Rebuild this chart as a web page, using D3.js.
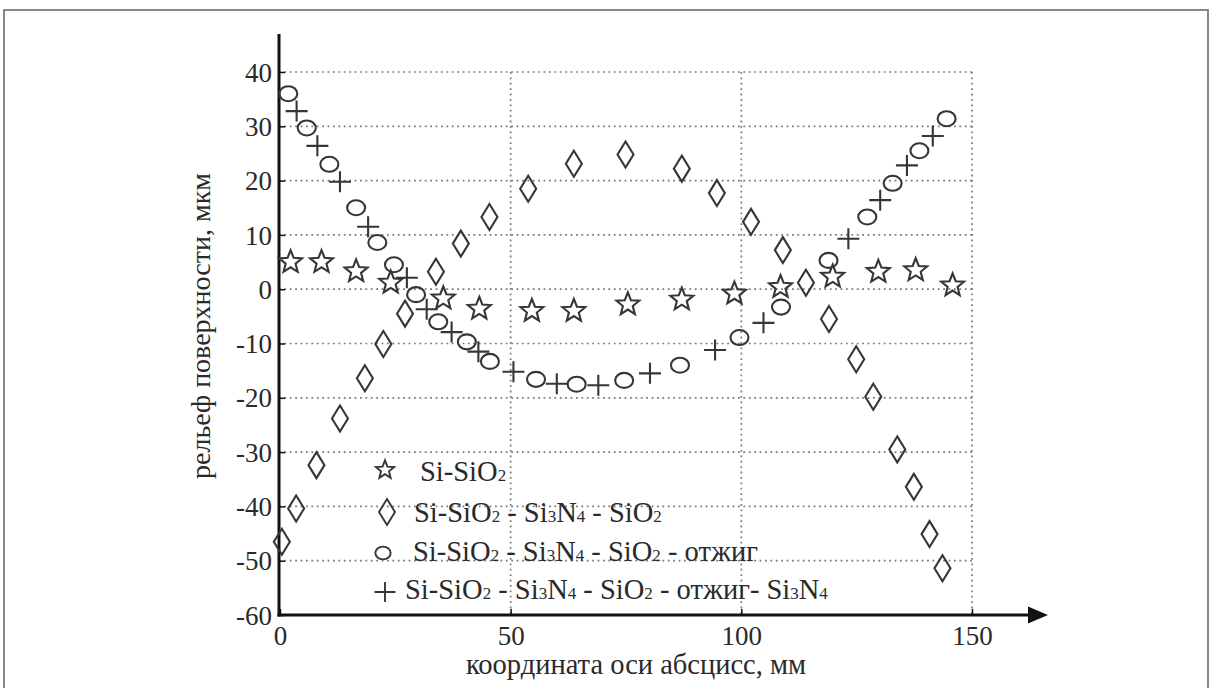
<!DOCTYPE html>
<html>
<head>
<meta charset="utf-8">
<script src="https://cdn.jsdelivr.net/npm/d3@7"></script>
<style>
  html, body { margin: 0; padding: 0; background: #fff; }
  svg { display: block; }
</style>
</head>
<body>
<svg id="chart" width="1214" height="688"></svg>
<script>
// Surface relief profiles, µm, along the abscissa (mm)
const starX = [2.3, 9.0, 16.5, 24.0, 35.4, 43.2, 54.6, 63.7, 75.4, 87.1, 98.5, 108.5, 119.8, 129.7, 137.8, 145.8];
const starY = [5.0, 5.0, 3.3, 1.2, -1.7, -3.6, -4.0, -4.0, -2.8, -1.9, -0.8, 0.4, 2.3, 3.2, 3.5, 0.7];

const diamondX = [0.4, 3.5, 7.9, 13.0, 18.4, 22.4, 27.1, 33.8, 39.2, 45.4, 53.8, 63.7, 74.9, 87.1, 94.7, 102.1, 109.0, 114.0, 119.0, 124.9, 128.6, 133.8, 137.4, 140.8, 143.6];
const diamondY = [-46.5, -40.4, -32.4, -23.8, -16.4, -10.1, -4.5, 3.2, 8.4, 13.3, 18.5, 23.1, 24.8, 22.2, 17.7, 12.4, 7.2, 1.2, -5.5, -12.9, -19.8, -29.5, -36.4, -45.1, -51.4];

const circleX = [1.8, 5.8, 10.7, 16.5, 21.1, 24.7, 29.5, 34.3, 40.5, 45.5, 55.5, 64.3, 74.6, 86.7, 99.6, 108.6, 118.9, 127.3, 132.8, 138.6, 144.5];
const circleY = [36.0, 29.7, 23.0, 15.0, 8.6, 4.5, -1.0, -6.0, -9.7, -13.3, -16.6, -17.5, -16.8, -14.0, -8.9, -3.3, 5.3, 13.3, 19.5, 25.5, 31.4];

const plusX = [3.6, 8.1, 13.0, 19.1, 27.5, 31.8, 37.2, 43.0, 50.6, 60.0, 69.0, 80.2, 94.3, 104.8, 123.2, 130.1, 135.9, 141.5];
const plusY = [32.8, 26.4, 19.8, 11.5, 2.1, -3.7, -7.9, -11.5, -15.2, -17.4, -17.7, -15.5, -11.2, -6.2, 9.3, 16.4, 22.8, 28.2];

const xTicks = [0, 50, 100, 150];
const yTicks = [40, 30, 20, 10, 0, -10, -20, -30, -40, -50, -60];
const xGrid = [50, 100, 150];
const yGrid = [40, 30, 20, 10, 0, -10, -20, -30, -40, -50];

// "_N" marks a subscript digit
const legendLabels = [
  "Si-SiO_2",
  "Si-SiO_2 - Si_3N_4 - SiO_2",
  "Si-SiO_2 - Si_3N_4 - SiO_2 - отжиг",
  "Si-SiO_2 - Si_3N_4 - SiO_2 - отжиг- Si_3N_4"
];
const xTitle = "координата оси абсцисс, мм";
const yTitle = "рельеф поверхности, мкм";

const FONT = "'Liberation Serif', 'Times New Roman', 'DejaVu Serif', serif";
const textInk = "#2a2a2a";
const ink = "#363636";

const svg = d3.select("#chart");

const x = d3.scaleLinear().domain([0, 150]).range([280, 972]);
const y = d3.scaleLinear().domain([-60, 40]).range([615, 72]);
const axisX = 279;

// outer frame
svg.append("rect")
  .attr("x", 4).attr("y", 10).attr("width", 1204).attr("height", 700)
  .attr("fill", "none").attr("stroke", "#6a6a6a").attr("stroke-width", 1.6);

// dotted grid
const grid = svg.append("g")
  .attr("stroke", "#7a7a7a").attr("stroke-width", 1.7)
  .attr("stroke-dasharray", "1.8,3.6").attr("fill", "none");
grid.selectAll("line.h").data(yGrid).join("line").attr("class", "h")
  .attr("x1", axisX).attr("x2", x(150))
  .attr("y1", d => y(d)).attr("y2", d => y(d));
grid.selectAll("line.v").data(xGrid).join("line").attr("class", "v")
  .attr("x1", d => x(d)).attr("x2", d => x(d))
  .attr("y1", y(40)).attr("y2", y(-60));

// y axis with inward ticks
const yAxis = d3.axisRight(y).tickValues(yTicks).tickSize(6).tickFormat("");
const gy = svg.append("g").attr("transform", `translate(${axisX},0)`).call(yAxis);
gy.select(".domain").remove();
gy.selectAll(".tick line").attr("stroke", "#111").attr("stroke-width", 1.5);
gy.selectAll(".tick").append("text")
  .attr("x", -7).attr("dy", "0.34em").attr("text-anchor", "end")
  .style("font-family", FONT).style("font-size", "27px").style("fill", textInk)
  .text(d => d);
svg.append("line")
  .attr("x1", axisX).attr("x2", axisX).attr("y1", 34).attr("y2", y(-60) + 1.5)
  .attr("stroke", "#111").attr("stroke-width", 3);

// x axis with upward ticks and an arrow
const xAxis = d3.axisTop(x).tickValues(xTicks).tickSize(6).tickFormat("");
const gx = svg.append("g").attr("transform", `translate(0,${y(-60)})`).call(xAxis);
gx.select(".domain").remove();
gx.selectAll(".tick line").attr("stroke", "#111").attr("stroke-width", 1.5);
gx.selectAll(".tick").append("text")
  .attr("y", 30).attr("text-anchor", "middle")
  .style("font-family", FONT).style("font-size", "27px").style("fill", textInk)
  .text(d => d);
svg.append("line")
  .attr("x1", axisX - 1.5).attr("x2", 1032).attr("y1", y(-60)).attr("y2", y(-60))
  .attr("stroke", "#111").attr("stroke-width", 3);
svg.append("path")
  .attr("d", `M1028,${y(-60) - 8.5}L1048,${y(-60)}L1028,${y(-60) + 8.5}Z`)
  .attr("fill", "#111");

// axis titles
svg.append("text")
  .attr("x", 636).attr("y", 674).attr("text-anchor", "middle")
  .style("font-family", FONT).style("font-size", "28.5px").style("fill", textInk)
  .text(xTitle);
svg.append("text")
  .attr("transform", "translate(210,326) rotate(-90)")
  .attr("text-anchor", "middle")
  .style("font-family", FONT).style("font-size", "28px").style("fill", textInk)
  .text(yTitle);

// marker shapes
function starPath(R, r) {
  const pts = [];
  for (let i = 0; i < 10; i++) {
    const a = -Math.PI / 2 + i * Math.PI / 5;
    const rad = i % 2 === 0 ? R : r;
    pts.push([rad * Math.cos(a), rad * Math.sin(a)]);
  }
  return "M" + pts.map(p => p[0].toFixed(2) + "," + p[1].toFixed(2)).join("L") + "Z";
}
const shapes = {
  star: (s) => starPath(12 * s, 5.2 * s),
  diamond: (s) => `M0,${-13 * s}L${8 * s},0L0,${13 * s}L${-8 * s},0Z`,
  circle: (s) => {
    const rx = 9 * s, ry = 7.5 * s;
    return `M${-rx},0A${rx},${ry} 0 1,0 ${rx},0A${rx},${ry} 0 1,0 ${-rx},0Z`;
  },
  plus: (s) => `M${-11 * s},0H${11 * s}M0,${-10.5 * s}V${10.5 * s}`
};

const series = [
  { shape: "star", xs: starX, ys: starY },
  { shape: "diamond", xs: diamondX, ys: diamondY },
  { shape: "circle", xs: circleX, ys: circleY },
  { shape: "plus", xs: plusX, ys: plusY }
];

series.forEach(sr => {
  const pts = sr.xs.map((v, i) => [v, sr.ys[i]]);
  svg.append("g").selectAll("path").data(pts).join("path")
    .attr("transform", d => `translate(${x(d[0])},${y(d[1])})`)
    .attr("d", shapes[sr.shape](1))
    .attr("fill", "none").attr("stroke", ink)
    .attr("stroke-width", 2.1).attr("stroke-linejoin", "miter");
});

// legend
const legendRows = [
  { shape: "star", mx: 385, my: 470, tx: 420, ty: 481, scale: 0.8 },
  { shape: "diamond", mx: 387, my: 512, tx: 414, ty: 522, scale: 1.0 },
  { shape: "circle", mx: 383, my: 553, tx: 413, ty: 561, scale: 0.85 },
  { shape: "plus", mx: 385, my: 592, tx: 405, ty: 599, scale: 0.95 }
];
legendRows.forEach((row, i) => {
  svg.append("path")
    .attr("transform", `translate(${row.mx},${row.my})`)
    .attr("d", shapes[row.shape](row.scale))
    .attr("fill", "none").attr("stroke", ink).attr("stroke-width", 1.9);
  const t = svg.append("text").attr("x", row.tx).attr("y", row.ty)
    .style("font-family", FONT).style("font-size", "28.5px").style("fill", textInk);
  const parts = legendLabels[i].split(/(_\d)/).filter(p => p.length);
  parts.forEach(p => {
    if (p[0] === "_") {
      t.append("tspan").style("font-size", "17px").text(p.slice(1));
    } else {
      t.append("tspan").text(p);
    }
  });
});
</script>
</body>
</html>
